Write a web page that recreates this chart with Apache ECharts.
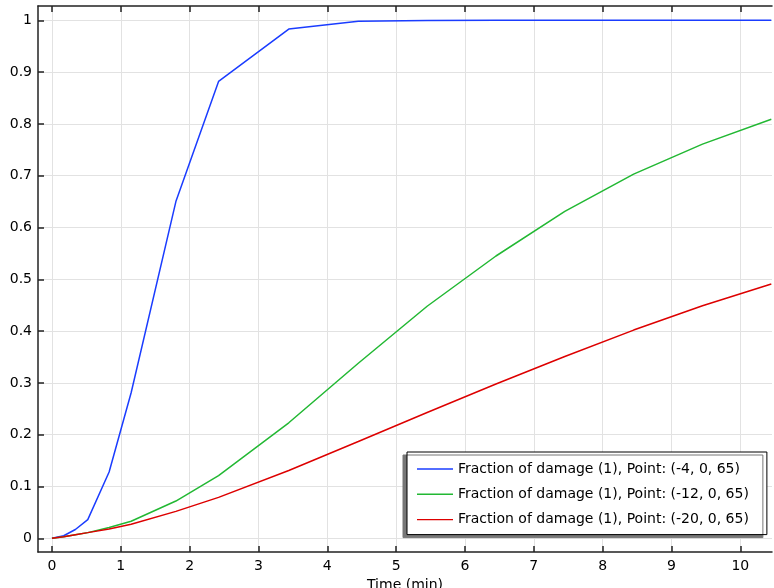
<!DOCTYPE html>
<html>
<head>
<meta charset="utf-8">
<script src="https://cdn.jsdelivr.net/npm/echarts@6/dist/echarts.min.js"></script>
<style>
  html, body { margin: 0; padding: 0; background: #fff; }
  #main { width: 774px; height: 588px; }
</style>
</head>
<body>
<div id="main"></div>
<script>
var times = [0, 0.17, 0.34, 0.52, 0.83, 1.15, 1.8, 2.42, 3.44, 4.45, 5.45, 6.45, 7.45, 8.45, 9.45, 10.45];
var damageP4 = [0, 0.005, 0.017, 0.036, 0.128, 0.281, 0.65, 0.882, 0.983, 0.998, 0.9995, 1, 1, 1, 1, 1];
var damageP12 = [0, 0.003, 0.007, 0.011, 0.021, 0.033, 0.072, 0.121, 0.223, 0.338, 0.448, 0.545, 0.631, 0.703, 0.761, 0.809];
var damageP20 = [0, 0.003, 0.007, 0.011, 0.018, 0.027, 0.052, 0.079, 0.131, 0.187, 0.243, 0.298, 0.351, 0.402, 0.449, 0.491];
var seriesNames = [
    'Fraction of damage (1), Point: (-4, 0, 65)',
    'Fraction of damage (1), Point: (-12, 0, 65)',
    'Fraction of damage (1), Point: (-20, 0, 65)'
];
var seriesColors = ['#1a3cff', '#22b833', '#dd0000'];
var xTicks = [0, 1, 2, 3, 4, 5, 6, 7, 8, 9, 10];
var yTicks = [0, 0.1, 0.2, 0.3, 0.4, 0.5, 0.6, 0.7, 0.8, 0.9, 1];

function pairs(ys) {
    return times.map(function (t, i) { return [t, ys[i]]; });
}

var font = 'DejaVu Sans';
var axisLine = { show: true, onZero: false, lineStyle: { color: '#222', width: 1.5 } };

var myChart = echarts.init(document.getElementById('main'));
myChart.setOption({
    animation: false,
    backgroundColor: '#fff',
    grid: { left: 38, top: 6, right: 2, bottom: 36, outerBoundsMode: 'none', containLabel: false },
    xAxis: [{
        type: 'value',
        min: -0.203,
        max: 10.46,
        name: 'Time (min)',
        nameLocation: 'middle',
        nameGap: 21,
        nameTextStyle: { color: '#000', fontSize: 14, fontFamily: font },
        axisLine: axisLine,
        axisTick: { show: true, inside: true, length: 6, customValues: xTicks, lineStyle: { color: '#222', width: 1.5 } },
        axisLabel: { customValues: xTicks, margin: 7, color: '#000', fontSize: 14, fontFamily: font },
        splitLine: { show: true, lineStyle: { color: '#e2e2e2', width: 1 } }
    }, {
        type: 'value',
        position: 'top',
        min: -0.203,
        max: 10.46,
        axisLine: axisLine,
        axisTick: { show: true, inside: true, length: 6, customValues: xTicks, lineStyle: { color: '#222', width: 1.5 } },
        axisLabel: { show: false },
        splitLine: { show: false }
    }],
    yAxis: {
        type: 'value',
        min: -0.0264,
        max: 1.0276,
        axisLine: axisLine,
        axisTick: { show: true, inside: true, length: 6, customValues: yTicks, lineStyle: { color: '#222', width: 1.5 } },
        axisLabel: { customValues: yTicks, margin: 6, color: '#000', fontSize: 14, fontFamily: font },
        splitLine: { show: true, lineStyle: { color: '#e2e2e2', width: 1 } }
    },
    legend: {
        orient: 'vertical',
        left: 407,
        top: 452,
        padding: [10, 18, 8, 10],
        // thin stripe centred in a 36x14 box (the zero-length moves keep the box size)
        icon: 'path://M0,0 L0,0 M0,6.3 H36 V7.7 H0 Z M36,14 L36,14',
        itemWidth: 36,
        itemHeight: 14,
        itemGap: 11.3,
        backgroundColor: '#fff',
        borderColor: '#000',
        borderWidth: 1,
        borderRadius: 0,
        shadowColor: '#777',
        shadowBlur: 0,
        shadowOffsetX: -4,
        shadowOffsetY: 3,
        textStyle: { color: '#000', fontSize: 14, fontFamily: font },
        data: seriesNames
    },
    series: [damageP4, damageP12, damageP20].map(function (ys, i) {
        return {
            name: seriesNames[i],
            type: 'line',
            data: pairs(ys),
            symbol: 'none',
            color: seriesColors[i],
            lineStyle: { width: 1.5, color: seriesColors[i] }
        };
    })
});
</script>
</body>
</html>
